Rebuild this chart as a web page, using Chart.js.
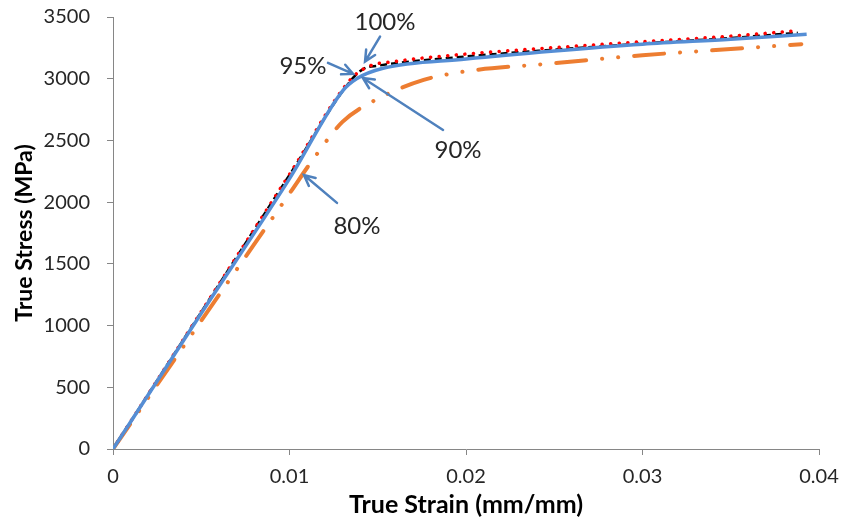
<!DOCTYPE html>
<html>
<head>
<meta charset="utf-8">
<script src="https://cdn.jsdelivr.net/npm/chart.js@4/dist/chart.umd.min.js"></script>
<style>
  html, body { margin: 0; padding: 0; background: #fff; }
  canvas { display: block; }
</style>
</head>
<body>
<canvas id="myChart" width="842" height="521"></canvas>
<script>
// strain (mm/mm) and stress (MPa), one pair of arrays per curve
const strain100 = [0, 0.005, 0.010, 0.0135, 0.0142, 0.0150, 0.020, 0.025, 0.030, 0.035, 0.0388];
const stress100 = [0, 1110, 2220, 2990, 3080, 3105, 3180, 3235, 3285, 3330, 3372];

const strain95 = [0, 0.005, 0.010, 0.0135, 0.0145, 0.0160, 0.020, 0.025, 0.030, 0.035, 0.0388];
const stress95 = [0, 1112, 2225, 3000, 3100, 3140, 3200, 3252, 3300, 3345, 3390];

const strain90 = [0, 0.005, 0.010, 0.0130, 0.0138, 0.0153, 0.020, 0.025, 0.030, 0.035, 0.0393];
const stress90 = [0, 1100, 2190, 2900, 3000, 3085, 3160, 3225, 3280, 3320, 3360];

const strain80 = [0, 0.005, 0.010, 0.0115, 0.0130, 0.0149, 0.0176, 0.020, 0.025, 0.030, 0.035, 0.039];
const stress80 = [0, 1040, 2070, 2380, 2650, 2830, 2990, 3060, 3125, 3190, 3240, 3280];

const xTickLabels = ['0', '0.01', '0.02', '0.03', '0.04'];
const yTickLabels = ['0', '500', '1000', '1500', '2000', '2500', '3000', '3500'];

// callout labels with arrows, in data coordinates
const noteLabels = ['100%', '95%', '90%', '80%'];
const noteTextAt = [[0.01541, 3460], [0.01076, 3104], [0.01955, 2423], [0.01382, 1807]];
const noteTail = [[0.01513, 3341], [0.01218, 3128], [0.01870, 2585], [0.01269, 1994]];
const noteHead = [[0.01428, 3139], [0.01360, 3039], [0.01416, 3006], [0.01082, 2220]];

const toPoints = (xs, ys) => xs.map((x, i) => ({ x: x, y: ys[i] }));

const fontFamily = 'Lato, "Open Sans", sans-serif';
const axisGray = '#868686';

const callouts = {
    id: 'callouts',
    afterDatasetsDraw(chart) {
        const c = chart.ctx;
        const xs = chart.scales.x;
        const ys = chart.scales.y;
        c.save();
        c.strokeStyle = 'rgb(79, 129, 189)';
        c.lineWidth = 2.5;
        c.lineCap = 'round';
        noteTail.forEach((tail, i) => {
            const x1 = xs.getPixelForValue(tail[0]);
            const y1 = ys.getPixelForValue(tail[1]);
            const x2 = xs.getPixelForValue(noteHead[i][0]);
            const y2 = ys.getPixelForValue(noteHead[i][1]);
            const a = Math.atan2(y2 - y1, x2 - x1);
            c.beginPath();
            c.moveTo(x1, y1);
            c.lineTo(x2, y2);
            c.moveTo(x2 - 12 * Math.cos(a - 0.45), y2 - 12 * Math.sin(a - 0.45));
            c.lineTo(x2, y2);
            c.lineTo(x2 - 12 * Math.cos(a + 0.45), y2 - 12 * Math.sin(a + 0.45));
            c.stroke();
        });
        c.fillStyle = '#262626';
        c.font = '24px ' + fontFamily;
        c.textAlign = 'center';
        c.textBaseline = 'middle';
        noteLabels.forEach((txt, i) => {
            c.fillText(txt, xs.getPixelForValue(noteTextAt[i][0]), ys.getPixelForValue(noteTextAt[i][1]));
        });
        c.restore();
    }
};

const ctx = document.getElementById('myChart');

const myChart = new Chart(ctx, {
    type: 'line',
    data: {
        datasets: [
            {
                label: '90%',
                data: toPoints(strain90, stress90),
                borderColor: 'rgb(85, 142, 213)',
                borderWidth: 3.5,
                order: 0
            },
            {
                label: '95%',
                data: toPoints(strain95, stress95),
                borderColor: 'rgb(255, 0, 0)',
                borderWidth: 3.5,
                borderDash: [0.1, 8.5],
                borderCapStyle: 'round',
                order: 1
            },
            {
                label: '100%',
                data: toPoints(strain100, stress100),
                borderColor: '#000',
                borderWidth: 2.5,
                borderDash: [7, 4],
                order: 2
            },
            {
                label: '80%',
                data: toPoints(strain80, stress80),
                borderColor: 'rgb(237, 125, 49)',
                borderWidth: 4,
                borderDash: [30, 16, 0.1, 16, 0.1, 16],
                borderCapStyle: 'round',
                order: 3
            }
        ]
    },
    options: {
        responsive: false,
        animation: false,
        devicePixelRatio: 1,
        elements: {
            point: { radius: 0 },
            line: { tension: 0.3, cubicInterpolationMode: 'monotone', fill: false }
        },
        layout: {
            padding: { left: 0, top: 17, right: 23, bottom: 0 }
        },
        plugins: {
            legend: { display: false },
            tooltip: { enabled: false }
        },
        scales: {
            x: {
                type: 'linear',
                min: 0,
                max: 0.04,
                afterFit(scale) {
                    scale.height = 72;
                    scale.paddingLeft = 0;
                    scale.paddingRight = 0;
                },
                afterBuildTicks(scale) {
                    scale.ticks = xTickLabels.map((t, i) => ({ value: i * 0.01 }));
                },
                ticks: {
                    callback: (value, index) => xTickLabels[index],
                    color: '#262626',
                    font: { family: fontFamily, size: 20 },
                    padding: 10,
                    maxRotation: 0
                },
                grid: {
                    drawOnChartArea: false,
                    drawTicks: true,
                    tickLength: 6,
                    color: axisGray
                },
                border: { display: true, color: axisGray, width: 1 },
                title: {
                    display: true,
                    text: 'True Strain (mm/mm)',
                    color: '#000',
                    font: { family: fontFamily, size: 25, weight: 'bold' },
                    padding: { top: 2, bottom: 1 }
                }
            },
            y: {
                type: 'linear',
                min: 0,
                max: 3500,
                afterFit(scale) {
                    scale.width = 113;
                    scale.paddingTop = 0;
                    scale.paddingBottom = 0;
                },
                afterBuildTicks(scale) {
                    scale.ticks = yTickLabels.map((t, i) => ({ value: i * 500 }));
                },
                ticks: {
                    callback: (value, index) => yTickLabels[index],
                    color: '#262626',
                    font: { family: fontFamily, size: 20 },
                    padding: 17
                },
                grid: {
                    drawOnChartArea: false,
                    drawTicks: true,
                    tickLength: 6,
                    color: axisGray
                },
                border: { display: true, color: axisGray, width: 1 },
                title: {
                    display: true,
                    text: 'True Stress (MPa)',
                    color: '#000',
                    font: { family: fontFamily, size: 23, weight: 'bold' },
                    padding: { top: 11, bottom: 0 }
                }
            }
        }
    },
    plugins: [callouts]
});
</script>
</body>
</html>
